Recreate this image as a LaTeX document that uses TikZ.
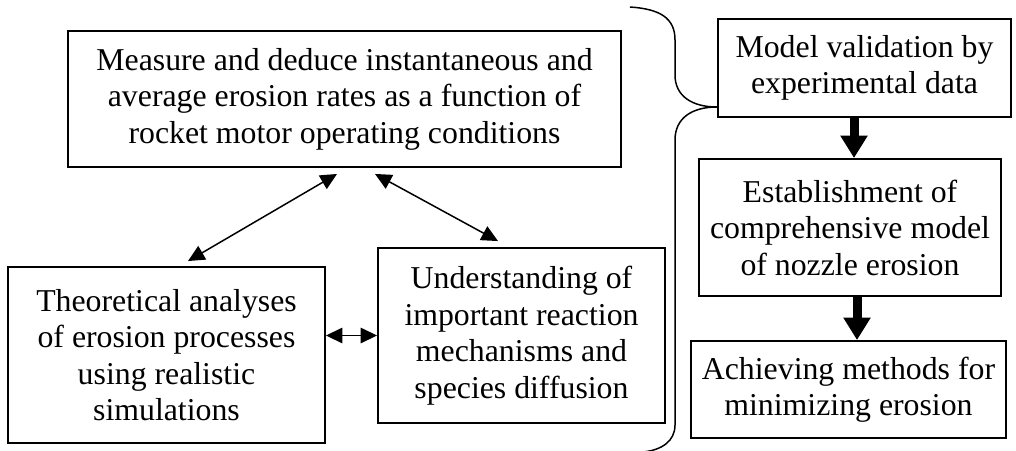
\documentclass[tikz,border=0pt]{standalone}
\usepackage{fontspec}
\setmainfont{Liberation Serif}
\usepackage{tikz}
\usetikzlibrary{arrows.meta, positioning}

\begin{document}
\begin{tikzpicture}[
  x=0.02cm, y=-0.02cm,
  box/.style={
    rectangle, draw=black, line width=1.1pt,
    align=center, inner sep=2pt,
    font=\fontsize{18.1}{20.8}\selectfont
  },
  dbl/.style={{Triangle[length=0.33cm, width=0.31cm]}-{Triangle[length=0.33cm, width=0.31cm]}, line width=0.85pt},
  bigarr/.style={-{Triangle[length=0.45cm, width=0.52cm]}, line width=0.18cm},
  curly/.style={line width=0.85pt}
]
  \useasboundingbox (0,0) rectangle (1016,450);

  % left block
  \node[box, minimum width=11.06cm, minimum height=2.72cm] (meas) at (344.5,99)
    {Measure and deduce instantaneous and\\average erosion rates as a function of\\rocket motor operating conditions};
  \node[box, minimum width=6.34cm, minimum height=3.52cm] (theo) at (166.5,355)
    {Theoretical analyses\\of erosion processes\\using realistic\\simulations};
  \node[box, minimum width=5.74cm, minimum height=3.5cm] (und) at (521.5,335.5)
    {Understanding of\\important reaction\\mechanisms and\\species diffusion};

  % right column
  \node[box, minimum width=5.86cm, minimum height=1.96cm] (valid) at (864.5,68)
    {Model validation by\\experimental data};
  \node[box, minimum width=6.04cm, minimum height=2.74cm] (estab) at (850,227.5)
    {Establishment of\\comprehensive model\\of nozzle erosion};
  \node[box, minimum width=6.3cm, minimum height=1.94cm] (achv) at (848.5,389.5)
    {Achieving methods for\\minimizing erosion};

  \draw[dbl] ([shift={(-7.5,6)}]meas.south) -- ([shift={(21.5,-5)}]theo.north);
  \draw[dbl] ([shift={(30.5,6)}]meas.south) -- ([shift={(-23.5,-6)}]und.north);
  \draw[dbl] (theo.east |- und.west) -- (und.west);

  \coordinate (t1) at ([shift={(4,0)}]estab.north);
  \coordinate (t2) at ([shift={(8.5,0)}]achv.north);
  \draw[bigarr] (t1 |- valid.south) -- (t1);
  \draw[bigarr] (t2 |- estab.south) -- (t2);

  % brace
  \coordinate (tip) at (717,107);
  \draw[curly] (630,7) .. controls (660,9) and (675,18) .. (675,40) -- (675,75)
    .. controls (675,96) and (692,107) .. (tip)
    .. controls (692,107) and (675,118) .. (675,140) -- (675,425)
    .. controls (675,441) and (662,450) .. (643,452);
\end{tikzpicture}
\end{document}
